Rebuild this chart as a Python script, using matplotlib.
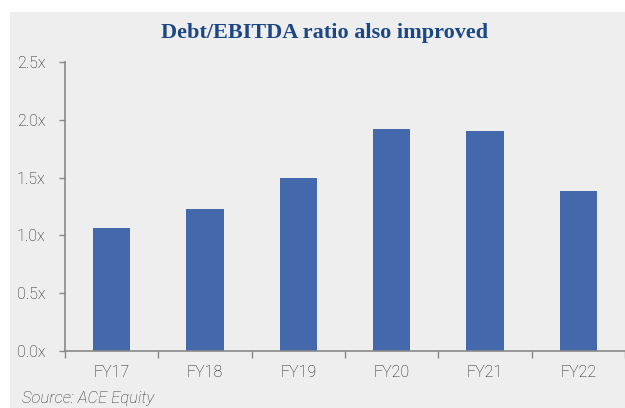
import matplotlib
matplotlib.use("Agg")
from matplotlib import pyplot as plt
from matplotlib.patches import Rectangle
from matplotlib.ticker import FuncFormatter

categories = ["FY17", "FY18", "FY19", "FY20", "FY21", "FY22"]
debt_ebitda = [1.06, 1.23, 1.50, 1.92, 1.90, 1.38]
y_ticks = [0.0, 0.5, 1.0, 1.5, 2.0, 2.5]

plt.rcParams['font.family'] = ['Roboto', 'DejaVu Sans']
plt.rcParams['font.weight'] = 'light'

fig = plt.figure(figsize=(6.25, 4.08), dpi=100)
fig.patch.set_facecolor("white")
# grey panel behind the chart
fig.patches.append(Rectangle((10 / 625, 0), 1 - 10 / 625, 1 - 12 / 408,
                             transform=fig.transFigure, facecolor="#eeeeee",
                             edgecolor="none", zorder=-10))

ax = fig.add_axes([65 / 625, 1 - 351 / 408, 560 / 625, (351 - 62) / 408])
ax.set_facecolor("none")

x = range(len(categories))
ax.bar(x, debt_ebitda, width=0.4, color="#4368ab", zorder=2)

ax.set_xlim(-0.5, len(categories) - 0.5)
ax.set_ylim(0, 2.5)
ax.set_yticks(y_ticks)
ax.yaxis.set_major_formatter(FuncFormatter(lambda v, p: f"{v:.1f}x"))
ax.set_xticks(list(x))
ax.set_xticklabels(categories)
ax.set_xticks([i - 0.5 for i in range(len(categories) + 1)], minor=True)
ax.tick_params(axis="x", which="major", length=0, pad=10, labelsize=11.5, labelcolor="#1a1a1a")
ax.tick_params(axis="x", which="minor", length=5, width=1, color="#888888", direction="out")
ax.tick_params(axis="y", length=4, width=1, color="#888888", labelsize=11.5,
               labelcolor="#1a1a1a", pad=10)

for side in ["top", "right"]:
    ax.spines[side].set_visible(False)
for side in ["left", "bottom"]:
    ax.spines[side].set_color("#888888")
    ax.spines[side].set_linewidth(1.2)

fig.text(0.52, 1 - 33 / 408, "Debt/EBITDA ratio also improved", ha="center", va="center",
         fontsize=16, fontweight="bold", color="#1c4785", family="Liberation Serif")
fig.text(22 / 625, 1 - 398 / 408, "Source: ACE Equity", ha="left", va="center",
         fontsize=12, style="italic", color="#333333")

fig.savefig("out.png", dpi=100)
